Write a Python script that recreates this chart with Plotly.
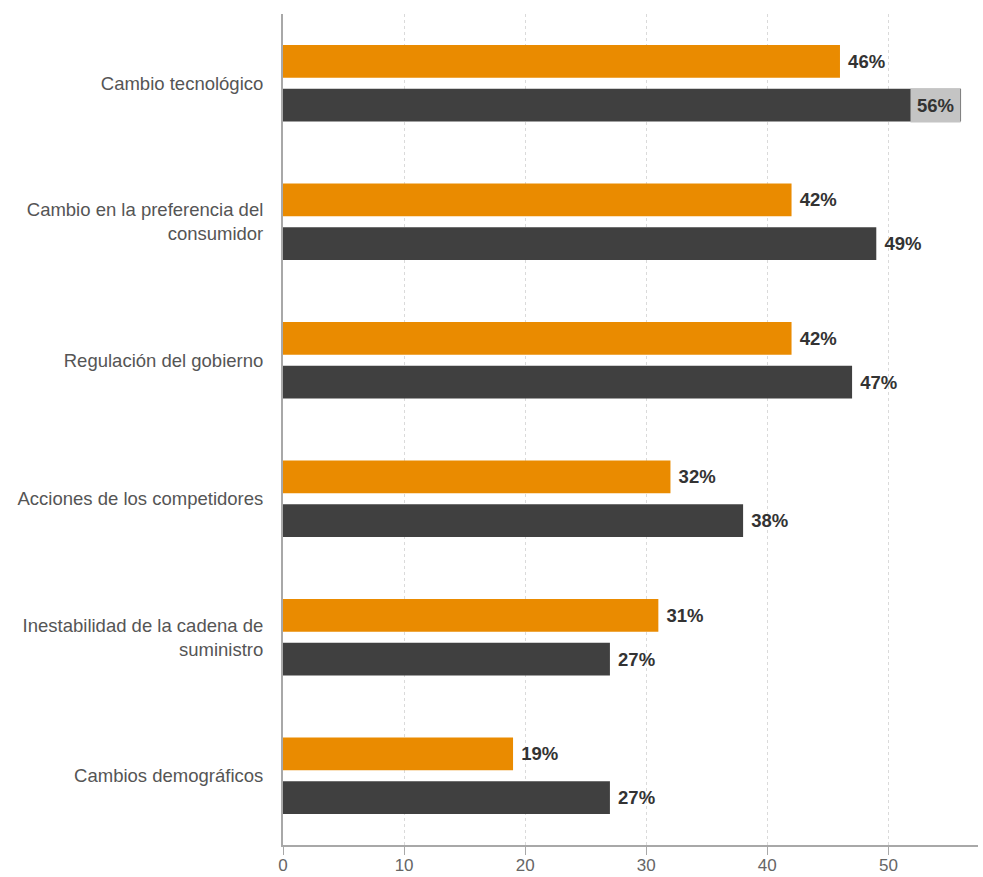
import plotly.graph_objects as go

categories = [
    "Cambio tecnológico",
    "Cambio en la preferencia del<br>consumidor",
    "Regulación del gobierno",
    "Acciones de los competidores",
    "Inestabilidad de la cadena de<br>suministro",
    "Cambios demográficos",
]
serie_naranja = [46, 42, 42, 32, 31, 19]
serie_gris = [56, 49, 47, 38, 27, 27]
x_ticks = [0, 10, 20, 30, 40, 50]

ORANGE = "#EA8B00"
DARK = "#404040"
LABEL_FONT = dict(family="Liberation Sans, Arial, sans-serif", size=18.5, color="#333333")
INSIDE_LIMIT = 50  # values above this get their label inside a grey box

def positions(vals):
    return ["none" if v > INSIDE_LIMIT else "outside" for v in vals]

fig = go.Figure()
fig.add_trace(go.Bar(
    y=categories, x=serie_naranja, orientation="h", name="Serie 1",
    marker=dict(color=ORANGE, line=dict(width=0)),
    texttemplate="\u00a0<b>%{x}%</b>", textposition=positions(serie_naranja),
    textfont=LABEL_FONT, cliponaxis=False,
))
fig.add_trace(go.Bar(
    y=categories, x=serie_gris, orientation="h", name="Serie 2",
    marker=dict(color=DARK, line=dict(width=0)),
    texttemplate="\u00a0<b>%{x}%</b>", textposition=positions(serie_gris),
    textfont=LABEL_FONT, cliponaxis=False,
))

# inside labels with grey background for bars that reach the edge
for cat, v in zip(categories, serie_gris):
    if v > INSIDE_LIMIT:
        fig.add_annotation(
            x=v, y=cat, xref="x", yref="y", text=f"<b>{v}%</b>",
            showarrow=False, xanchor="right", yanchor="middle",
            yshift=-22, bgcolor="#C4C4C4", borderpad=6,
            font=LABEL_FONT,
        )

fig.update_layout(
    width=983, height=877,
    margin=dict(l=283, r=5, t=14, b=32, autoexpand=False),
    paper_bgcolor="white", plot_bgcolor="white",
    barmode="group", bargap=0.367, bargroupgap=0.25,
    showlegend=False,
    font=dict(family="Liberation Sans, Arial, sans-serif"),
)
fig.update_xaxes(
    range=[0, 57.4], tickvals=x_ticks, ticktext=[str(t) for t in x_ticks],
    showgrid=True, gridcolor="#DADADA", griddash="dot", gridwidth=1,
    showline=True, linecolor="#A8A8A8", linewidth=2,
    ticks="outside", ticklen=8, tickcolor="#A8A8A8", tickwidth=1,
    ticklabelstandoff=-4,
    tickfont=dict(size=17, color="#666666"), zeroline=False, automargin=False,
)
fig.update_yaxes(
    autorange="reversed", showgrid=False,
    showline=True, linecolor="#A8A8A8", linewidth=2,
    ticks="", ticklabelstandoff=14, automargin=False,
    tickfont=dict(size=18.5, color="#555555"),
)

fig.write_html("out.html")
